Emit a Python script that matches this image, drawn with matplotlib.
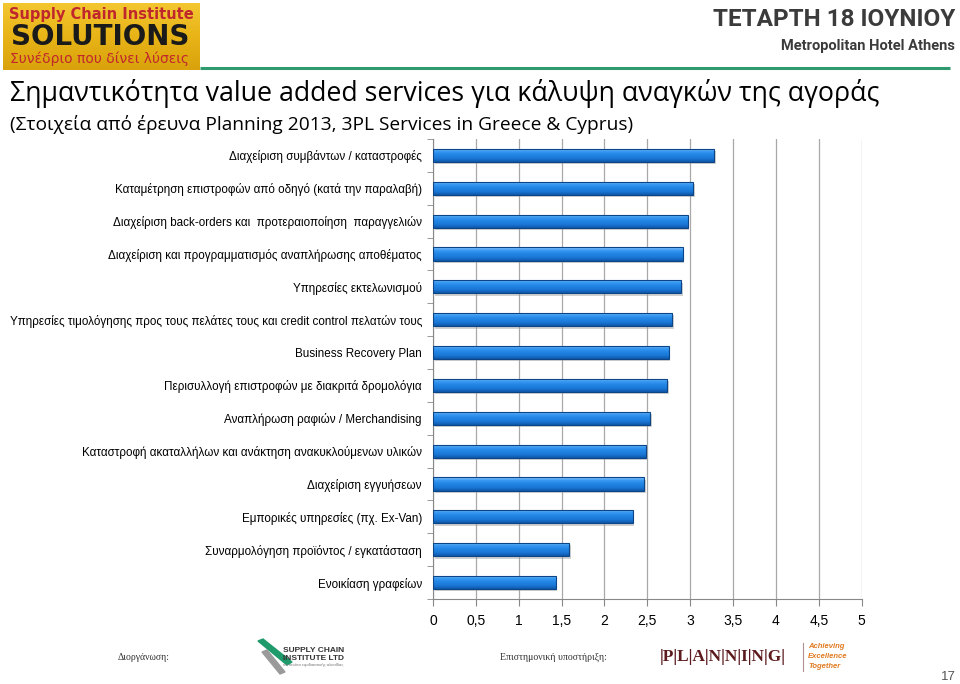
import numpy as np
import matplotlib.pyplot as plt
from matplotlib.patches import Rectangle, Polygon
from matplotlib.ticker import FixedLocator, FuncFormatter

# data (top to bottom)
services = [
    'Διαχείριση συμβάντων / καταστροφές',
    'Καταμέτρηση επιστροφών από οδηγό (κατά την παραλαβή)',
    'Διαχείριση back-orders και  προτεραιοποίηση  παραγγελιών',
    'Διαχείριση και προγραμματισμός αναπλήρωσης αποθέματος',
    'Υπηρεσίες εκτελωνισμού',
    'Υπηρεσίες τιμολόγησης προς τους πελάτες τους και credit control πελατών τους',
    'Business Recovery Plan',
    'Περισυλλογή επιστροφών με διακριτά δρομολόγια',
    'Αναπλήρωση ραφιών / Merchandising',
    'Καταστροφή ακαταλλήλων και ανάκτηση ανακυκλούμενων υλικών',
    'Διαχείριση εγγυήσεων',
    'Εμπορικές υπηρεσίες (πχ. Ex-Van)',
    'Συναρμολόγηση προϊόντος / εγκατάσταση',
    'Ενοικίαση γραφείων',
]
scores = [3.28, 3.03, 2.97, 2.91, 2.89, 2.79, 2.75, 2.73, 2.53, 2.48, 2.46, 2.33, 1.59, 1.43]
xticks = [0, 0.5, 1, 1.5, 2, 2.5, 3, 3.5, 4, 4.5, 5]

title = 'Σημαντικότητα value added services για κάλυψη αναγκών της αγοράς'
subtitle = '(Στοιχεία από έρευνα Planning 2013, 3PL Services in Greece & Cyprus)'

plt.rcParams['font.family'] = ['Liberation Sans', 'DejaVu Sans']

fig = plt.figure(figsize=(9.6, 6.84), dpi=100)

# ---- header / footer drawn in figure pixel coords
bg = fig.add_axes([0, 0, 1, 1])
bg.set_xlim(0, 960)
bg.set_ylim(684, 0)
bg.axis('off')

# yellow logo box with gradient
grad = np.linspace(0, 1, 50).reshape(-1, 1)
logo_cmap = plt.matplotlib.colors.LinearSegmentedColormap.from_list('gold', ['#f3c631', '#e8b417', '#d9a20c'])
bg.imshow(grad, extent=(3, 200, 70, 3), cmap=logo_cmap, aspect='auto', zorder=1)
bg.text(101, 15, 'Supply Chain Institute', color='#c0272d', fontsize=10.5, fontweight='bold',
        family=['DejaVu Sans'], ha='center', va='center', zorder=2)
bg.text(100, 37, 'SOLUTIONS', color='#1a1a1a', fontsize=20, fontweight='bold',
        family=['DejaVu Sans'], ha='center', va='center', zorder=2)
bg.text(100, 59, 'Συνέδριο που δίνει λύσεις', color='#c0272d', fontsize=10,
        family=['DejaVu Sans'], ha='center', va='center', zorder=2)
bg.plot([200, 950], [68, 68], color='#2e9a6e', lw=2.2, solid_capstyle='butt')

bg.text(955, 20, 'ΤΕΤΑΡΤΗ 18 ΙΟΥΝΙΟΥ', color='#3b3b3b', fontsize=17.5, fontweight='bold',
        family=['Roboto', 'DejaVu Sans'], ha='right', va='center')
bg.text(955, 46, 'Metropolitan Hotel Athens', color='#3b3b3b', fontsize=10.5, fontweight='bold',
        family=['Roboto', 'DejaVu Sans'], ha='right', va='center')

bg.text(10, 93, title, fontsize=19.3, color='black', family=['Open Sans', 'DejaVu Sans'],
        ha='left', va='center')
bg.text(10, 124, subtitle, fontsize=13.8, color='black', family=['Open Sans', 'DejaVu Sans'],
        ha='left', va='center')

# footer
bg.text(118, 657, 'Διοργάνωση:', fontsize=7, color='#333333', family=['Liberation Serif', 'DejaVu Serif'],
        ha='left', va='center')
bg.text(500, 657, 'Επιστημονική υποστήριξη:', fontsize=7, color='#333333',
        family=['Liberation Serif', 'DejaVu Serif'], ha='left', va='center')
bg.add_patch(Polygon([[258, 641], [263, 639], [292, 662], [287, 665]], color='#1f9a6a', zorder=2))
bg.add_patch(Polygon([[262, 652], [267, 650], [285, 672], [280, 674]], color='#9a9a9a', zorder=2))
bg.text(283, 650, 'SUPPLY CHAIN', fontsize=6, fontweight='bold', color='#333333', ha='left', va='center')
bg.text(283, 658, 'INSTITUTE LTD', fontsize=6, fontweight='bold', color='#333333', ha='left', va='center')
bg.text(283, 665, 'ινστιτούτο εφοδιαστικής αλυσίδας', fontsize=3, color='#777777', ha='left', va='center')
bg.text(660, 657, '|P|L|A|N|N|I|N|G|', fontsize=12.5, fontweight='bold', color='#5c1a1d',
        family=['Liberation Serif', 'DejaVu Serif'], ha='left', va='center')
bg.plot([803, 803], [643, 671], color='#b09090', lw=0.8)
for i, w in enumerate(['Achieving', 'Excellence', 'Together']):
    bg.text(808, 647 + i * 10, w, fontsize=5.5, fontstyle='italic', fontweight='bold',
            color='#e07a1f', ha='left', va='center')
bg.text(948, 677, '17', fontsize=9.5, color='#555555', ha='center', va='center')

# ---- chart
ax = fig.add_axes([433 / 960, 1 - 599 / 684, (861.7 - 433) / 960, (599 - 139) / 684])
ypos = np.arange(len(services))
h = 0.4
ax.set_xlim(0, 5)
ax.set_ylim(len(services) - 0.5, -0.5)

bar_cmap = plt.matplotlib.colors.LinearSegmentedColormap.from_list(
    'bar', ['#86c6ff', '#3597f0', '#2284e3', '#1a77d6', '#0f58aa'])
g = np.linspace(0, 1, 40).reshape(-1, 1)
for y, v in zip(ypos, scores):
    # shadow
    ax.add_patch(Rectangle((0.02, y - h / 2 + 0.07), v, h, color='#9a9a9a', alpha=0.45, lw=0, zorder=2))
    r = Rectangle((0, y - h / 2), v, h, facecolor='none', edgecolor='#0b4588', lw=0.8, zorder=4)
    ax.add_patch(r)
    im = ax.imshow(g, extent=(0, v, y + h / 2, y - h / 2), cmap=bar_cmap, aspect='auto', zorder=3)
    im.set_clip_path(r)

ax.xaxis.set_major_locator(FixedLocator(xticks))
ax.xaxis.set_major_formatter(FuncFormatter(lambda x, p: f'{x:g}'.replace('.', ',')))
ax.set_yticks(ypos)
ax.set_yticklabels(services, fontsize=8.4)
ax.yaxis.set_minor_locator(FixedLocator(np.arange(-0.5, len(services), 1)))
ax.tick_params(axis='y', which='major', length=0, pad=8)
ax.tick_params(axis='y', which='minor', length=4, color='#888888', direction='out')
ax.tick_params(axis='x', which='major', length=5, color='#888888', direction='out', labelsize=10, pad=6)
ax.grid(axis='x', color='#a8a8a8', lw=0.9, zorder=0)
ax.set_axisbelow(True)
for s in ['top', 'right']:
    ax.spines[s].set_visible(False)
ax.spines['left'].set_color('#888888')
ax.spines['bottom'].set_color('#888888')

fig.savefig('out.png', dpi=100)
